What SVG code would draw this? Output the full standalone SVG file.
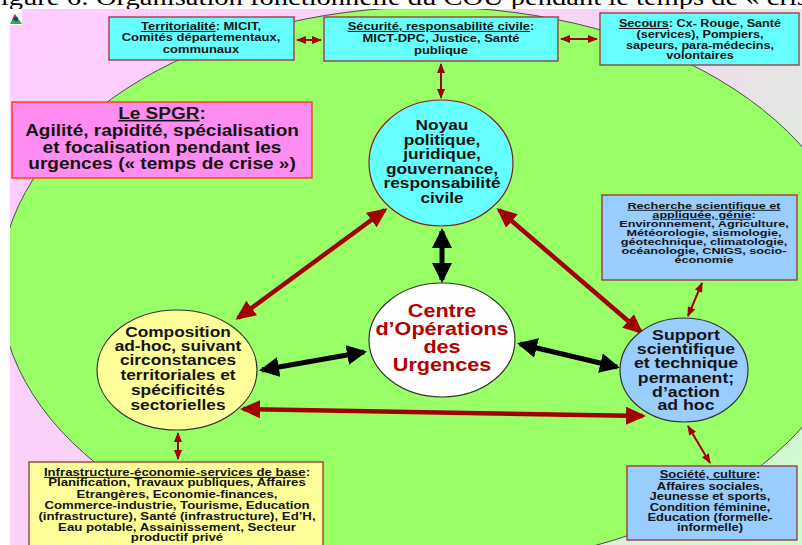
<svg xmlns="http://www.w3.org/2000/svg" width="802" height="545" viewBox="0 0 802 545">
<style>
.t{font-family:"Liberation Sans",Arial,sans-serif;font-weight:bold;text-anchor:middle;fill:#141414}
.u{text-decoration:underline}
.box{stroke:#993333;stroke-width:1.3}
.thick-red{stroke:#a00000;stroke-width:4.5;fill:none}
.thick-blk{stroke:#000;stroke-width:5;fill:none}
.thin-red{stroke:#a00000;stroke-width:2;fill:none}
</style>
<defs>
<linearGradient id="bg" x1="0" y1="0" x2="802" y2="545" gradientUnits="userSpaceOnUse">
<stop offset="0" stop-color="#ffccff"/>
<stop offset="0.55" stop-color="#f6d6f4"/>
<stop offset="1" stop-color="#ccffcc"/>
</linearGradient>
<clipPath id="bgclip"><rect x="10" y="9" width="792" height="536"/></clipPath>
<marker id="mr" markerUnits="userSpaceOnUse" viewBox="0 0 20 18" markerWidth="20" markerHeight="18" refX="17" refY="9" orient="auto-start-reverse"><path d="M0,0 L20,9 L0,18 Z" fill="#a00000"/></marker>
<marker id="mb" markerUnits="userSpaceOnUse" viewBox="0 0 20 20" markerWidth="20" markerHeight="20" refX="17" refY="10" orient="auto-start-reverse"><path d="M0,0 L20,10 L0,20 Z" fill="#000"/></marker>
<marker id="ms" markerUnits="userSpaceOnUse" viewBox="0 0 10 8" markerWidth="10" markerHeight="8" refX="9" refY="4" orient="auto-start-reverse"><path d="M0,0 L10,4 L0,8 Z" fill="#a00000"/></marker>
</defs>

<rect x="0" y="0" width="802" height="545" fill="#ffffff"/>
<text transform="translate(-15,0) scale(1.19,1)" x="0" y="5" font-family="'Liberation Serif','Times New Roman',serif" font-size="24" fill="#000">Figure 6: Organisation fonctionnelle du COU pendant le temps de « crise »</text>
<rect x="10" y="9" width="792" height="536" fill="url(#bg)"/>
<g clip-path="url(#bgclip)">
<ellipse cx="430" cy="287" rx="430" ry="280" fill="#99ff66" stroke="#4a4a4a" stroke-width="1"/>
</g>
<g id="logo">
<rect x="10" y="9" width="12" height="16" fill="#fff"/>
<polygon points="10,24 15,14 22,24" fill="#33aa33"/>
<polygon points="12,20 15,14 17,20" fill="#cc2222"/>
<circle cx="16" cy="19" r="2.2" fill="#2233cc"/>
</g>

<g id="connectors">
<line class="thin-red" x1="297" y1="40" x2="321" y2="40" marker-start="url(#ms)" marker-end="url(#ms)"/>
<line class="thin-red" x1="561" y1="39" x2="597" y2="39" marker-start="url(#ms)" marker-end="url(#ms)"/>
<line class="thin-red" x1="441" y1="64" x2="441" y2="98" marker-start="url(#ms)" marker-end="url(#ms)"/>
<line class="thin-red" x1="702" y1="283" x2="688" y2="316" marker-start="url(#ms)" marker-end="url(#ms)"/>
<line class="thin-red" x1="688" y1="426" x2="710" y2="463" marker-start="url(#ms)" marker-end="url(#ms)"/>
<line class="thin-red" x1="178" y1="433" x2="178" y2="459" marker-start="url(#ms)" marker-end="url(#ms)"/>
<line class="thick-red" x1="385" y1="210" x2="238" y2="318" marker-start="url(#mr)" marker-end="url(#mr)"/>
<line class="thick-red" x1="499" y1="210" x2="641" y2="332" marker-start="url(#mr)" marker-end="url(#mr)"/>
<line class="thick-red" x1="243" y1="409" x2="643" y2="416" marker-start="url(#mr)" marker-end="url(#mr)"/>
<line class="thick-blk" x1="442" y1="231" x2="442" y2="280" marker-start="url(#mb)" marker-end="url(#mb)"/>
<line class="thick-blk" x1="262" y1="370" x2="364" y2="352" marker-start="url(#mb)" marker-end="url(#mb)"/>
<line class="thick-blk" x1="520" y1="344" x2="617" y2="367" marker-start="url(#mb)" marker-end="url(#mb)"/>
</g>

<g id="territorialite">
<rect class="box" x="109" y="17" width="185" height="43" fill="#66ffff"/>
<g transform="translate(201,0) scale(1.18,1)" class="t" font-size="11">
<text x="0" y="30"><tspan class="u">Territorialité</tspan>: MICIT,</text>
<text x="0" y="41.5">Comités départementaux,</text>
<text x="0" y="53">communaux</text>
</g>
</g>

<g id="securite">
<rect class="box" x="324" y="17" width="234" height="44" fill="#66ffff"/>
<g transform="translate(441,0) scale(1.18,1)" class="t" font-size="11">
<text x="0" y="30"><tspan class="u">Sécurité, responsabilité civile</tspan>:</text>
<text x="0" y="42.5">MICT-DPC, Justice, Santé</text>
<text x="0" y="54.5">publique</text>
</g>
</g>

<g id="secours">
<rect class="box" x="600" y="13" width="199" height="52" fill="#66ffff"/>
<g transform="translate(700,0) scale(1.17,1)" class="t" font-size="10.8">
<text x="0" y="27"><tspan class="u">Secours</tspan>: Cx- Rouge, Santé</text>
<text x="0" y="38">(services), Pompiers,</text>
<text x="0" y="49">sapeurs, para-médecins,</text>
<text x="0" y="59.5">volontaires</text>
</g>
</g>

<g id="spgr">
<rect x="12" y="102" width="300" height="76" fill="#ff8cf0" stroke="#ff3300" stroke-width="1.3"/>
<g transform="translate(162,0) scale(1.22,1)" class="t" font-size="15.6">
<text x="0" y="119"><tspan class="u">Le SPGR</tspan>:</text>
<text x="0" y="136.5">Agilité, rapidité, spécialisation</text>
<text x="0" y="153">et focalisation pendant les</text>
<text x="0" y="169.5">urgences (« temps de crise »)</text>
</g>
</g>

<g id="noyau">
<ellipse cx="441" cy="163" rx="72" ry="63" fill="#66ffff" stroke="#8b1a1a" stroke-width="1.2"/>
<g transform="translate(442,0) scale(1.2,1)" class="t" font-size="14.4">
<text x="0" y="130">Noyau</text>
<text x="0" y="145">politique,</text>
<text x="0" y="159.5">juridique,</text>
<text x="0" y="174">gouvernance,</text>
<text x="0" y="188.5">responsabilité</text>
<text x="0" y="203">civile</text>
</g>
</g>

<g id="centre">
<ellipse cx="442" cy="340" rx="73" ry="57" fill="#ffffff" stroke="#333" stroke-width="1.2"/>
<g transform="translate(442,0) scale(1.2,1)" class="t" font-size="18">
<text x="0" y="317" fill="#b30000">Centre</text>
<text x="0" y="335" fill="#b30000">d’Opérations</text>
<text x="0" y="353" fill="#b30000">des</text>
<text x="0" y="371" fill="#b30000">Urgences</text>
</g>
</g>

<g id="composition">
<ellipse cx="177" cy="370" rx="80" ry="60" fill="#ffff99" stroke="#333" stroke-width="1.2"/>
<g transform="translate(178,0) scale(1.2,1)" class="t" font-size="14.4">
<text x="0" y="337">Composition</text>
<text x="0" y="351">ad-hoc, suivant</text>
<text x="0" y="365.5">circonstances</text>
<text x="0" y="380">territoriales et</text>
<text x="0" y="395">spécificités</text>
<text x="0" y="410">sectorielles</text>
</g>
</g>

<g id="support">
<ellipse cx="684" cy="370" rx="64" ry="52" fill="#99ccff" stroke="#333" stroke-width="1.2"/>
<g transform="translate(686,0) scale(1.23,1)" class="t" font-size="14.4">
<text x="0" y="340">Support</text>
<text x="0" y="354.5">scientifique</text>
<text x="0" y="368.5">et technique</text>
<text x="0" y="383">permanent;</text>
<text x="0" y="397">d’action</text>
<text x="0" y="410.5">ad hoc</text>
</g>
</g>

<g id="recherche">
<rect class="box" x="602" y="195" width="195" height="85" fill="#99ccff"/>
<g transform="translate(704,0) scale(1.36,1)" class="t" font-size="9.3">
<text x="0" y="209"><tspan class="u">Recherche scientifique et</tspan></text>
<text x="0" y="218"><tspan class="u">appliquée, génie</tspan>:</text>
<text x="0" y="227">Environnement, Agriculture,</text>
<text x="0" y="236">Météorologie, sismologie,</text>
<text x="0" y="245">géotechnique, climatologie,</text>
<text x="0" y="254">océanologie, CNIGS, socio-</text>
<text x="0" y="263">économie</text>
</g>
</g>

<g id="societe">
<rect class="box" x="627" y="466" width="170" height="74" fill="#99ccff"/>
<g transform="translate(710,0) scale(1.27,1)" class="t" font-size="10.2">
<text x="0" y="478"><tspan class="u">Société, culture</tspan>:</text>
<text x="0" y="490">Affaires sociales,</text>
<text x="0" y="500.5">Jeunesse et sports,</text>
<text x="0" y="511">Condition féminine,</text>
<text x="0" y="521">Education (formelle-</text>
<text x="0" y="531">informelle)</text>
</g>
</g>

<g id="infrastructure">
<rect class="box" x="29" y="462" width="294" height="90" fill="#ffff99"/>
<g transform="translate(177,0) scale(1.27,1)" class="t" font-size="10.4">
<text x="0" y="476"><tspan class="u">Infrastructure-économie-services de base</tspan>:</text>
<text x="0" y="486.5">Planification, Travaux publiques, Affaires</text>
<text x="0" y="498">Etrangères, Economie-finances,</text>
<text x="0" y="509">Commerce-industrie, Tourisme, Education</text>
<text x="0" y="520.5">(infrastructure), Santé (infrastructure), Ed’H,</text>
<text x="0" y="531">Eau potable, Assainissement, Secteur</text>
<text x="0" y="541.5">productif privé</text>
</g>
</g>
</svg>
